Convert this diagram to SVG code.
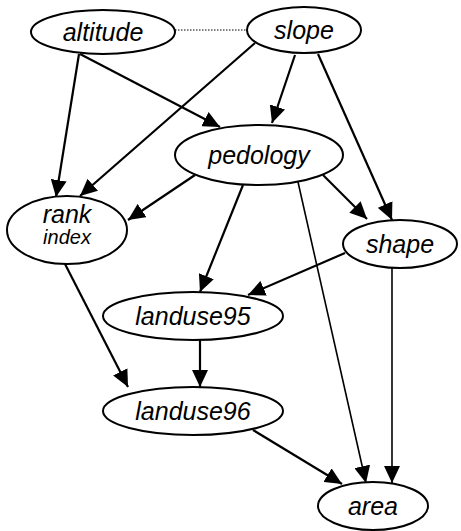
<svg xmlns="http://www.w3.org/2000/svg" width="461" height="531" viewBox="0 0 461 531">
<style>
.n ellipse{fill:#fff;stroke:#000;stroke-width:2}
.n text{font-family:"Liberation Sans",Arial,sans-serif;font-style:italic;font-size:25px;text-anchor:middle;fill:#000}
.e line{stroke:#000;stroke-width:2.2;fill:none}
.e line.a{marker-end:url(#ah)}
.e line.t{stroke-width:1.6}
.e line.d{stroke-width:1.2;stroke-dasharray:1.5 1.5}
</style>
<defs>
<marker id="ah" markerUnits="userSpaceOnUse" markerWidth="17" markerHeight="16" refX="17" refY="8" orient="auto" viewBox="0 0 17 16">
<path d="M0,0 L17,8 L0,16 z" fill="#000"/>
</marker>
</defs>
<rect width="461" height="531" fill="#fff"/>
<g id="edges" class="e">
<line class="d" x1="175" y1="30" x2="247" y2="30"/>
<line class="a" x1="79" y1="54" x2="56" y2="197"/>
<line class="a" x1="80" y1="54" x2="220" y2="127"/>
<line class="a" x1="255" y1="43" x2="80" y2="196"/>
<line class="a" x1="295" y1="55" x2="272" y2="123"/>
<line class="a" x1="318" y1="54" x2="392" y2="220"/>
<line class="a" x1="195" y1="175" x2="128" y2="220"/>
<line class="a" x1="323" y1="175" x2="367" y2="219"/>
<line class="a" x1="243" y1="185" x2="200" y2="292"/>
<line class="a t" x1="298" y1="182" x2="366" y2="483"/>
<line class="a" x1="345" y1="253" x2="248" y2="295"/>
<line class="a t" x1="392" y1="268" x2="392" y2="483"/>
<line class="a" x1="65" y1="264" x2="128" y2="387"/>
<line class="a" x1="200" y1="340" x2="200" y2="387"/>
<line class="a" x1="253" y1="430" x2="342" y2="484"/>
</g>
<g id="altitude" class="n"><ellipse cx="103" cy="32" rx="72" ry="22"/><text x="103" y="41">altitude</text></g>
<g id="slope" class="n"><ellipse cx="304" cy="30" rx="57" ry="23"/><text x="304" y="39">slope</text></g>
<g id="pedology" class="n"><ellipse cx="259" cy="155" rx="84" ry="30"/><text x="259" y="164">pedology</text></g>
<g id="rank" class="n"><ellipse cx="67" cy="230" rx="60" ry="34"/><text x="67" y="223">rank</text><text x="67" y="244" style="font-size:20px">index</text></g>
<g id="shape" class="n"><ellipse cx="400" cy="244" rx="57" ry="24"/><text x="400" y="253">shape</text></g>
<g id="landuse95" class="n"><ellipse cx="193" cy="316" rx="90" ry="24"/><text x="193" y="325">landuse95</text></g>
<g id="landuse96" class="n"><ellipse cx="193" cy="411" rx="90" ry="24"/><text x="193" y="420">landuse96</text></g>
<g id="area" class="n"><ellipse cx="373" cy="506" rx="55" ry="24"/><text x="373" y="515">area</text></g>
</svg>
